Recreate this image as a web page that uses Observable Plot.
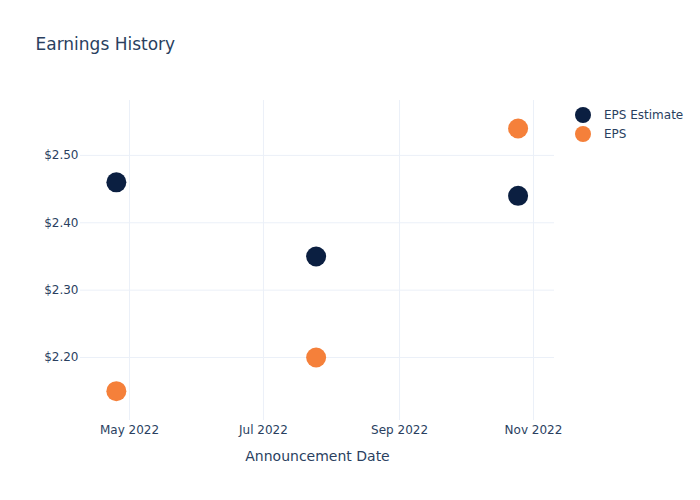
<!DOCTYPE html>
<html>
<head>
<meta charset="utf-8">
<script src="https://cdn.jsdelivr.net/npm/d3@7"></script>
<script src="https://cdn.jsdelivr.net/npm/@observablehq/plot@0.6"></script>
<style>
  html, body { margin: 0; padding: 0; background: #fff; }
  #wrap { position: relative; width: 700px; height: 500px; font-family: "DejaVu Sans", sans-serif; color: #2a3f5f; }
  #legend { position: absolute; left: 575px; top: 105px; font-size: 12px; }
  .item { display: flex; align-items: center; height: 19px; }
  .item svg { margin-right: 13px; }
</style>
</head>
<body>
<div id="wrap"></div>
<script>
const dates = ["2022-04-25", "2022-07-25", "2022-10-25"];
const epsEstimate = [2.46, 2.35, 2.44];
const eps = [2.15, 2.20, 2.54];
const seriesNames = ["EPS Estimate", "EPS"];
const seriesColors = ["#0b1f41", "#f5803a"];
const xTicks = ["2022-05-01", "2022-07-01", "2022-09-01", "2022-11-01"];
const yTicks = [2.2, 2.3, 2.4, 2.5];
const titleText = "Earnings History";
const xLabel = "Announcement Date";

const rows = [];
dates.forEach((d, i) => {
  rows.push({date: new Date(d), value: epsEstimate[i], series: seriesNames[0]});
  rows.push({date: new Date(d), value: eps[i], series: seriesNames[1]});
});

const textColor = "#2a3f5f";
const gridColor = "#ebf0f8";

const chart = Plot.plot({
  width: 700,
  height: 500,
  marginLeft: 80,
  marginRight: 146,
  marginTop: 100,
  marginBottom: 80,
  style: {fontFamily: "DejaVu Sans, sans-serif", fontSize: "12px", color: textColor, background: "#fff"},
  x: {
    type: "utc",
    domain: [new Date("2022-04-08T16:00:00Z"), new Date("2022-11-10T14:00:00Z")],
    ticks: xTicks.map(d => new Date(d)),
    tickFormat: d3.utcFormat("%b %Y"),
    tickSize: 0,
    tickPadding: 5,
    label: null
  },
  y: {
    domain: [2.1065, 2.5815],
    ticks: yTicks,
    tickFormat: d => "$" + d.toFixed(2),
    tickSize: 0,
    tickPadding: 2,
    label: null
  },
  color: {domain: seriesNames, range: seriesColors},
  marks: [
    Plot.gridX(xTicks.map(d => new Date(d)), {stroke: gridColor, strokeOpacity: 1, strokeWidth: 1}),
    Plot.gridY(yTicks, {stroke: gridColor, strokeOpacity: 1, strokeWidth: 1}),
    Plot.dot(rows, {x: "date", y: "value", fill: "series", r: 10}),
    Plot.text([titleText], {frameAnchor: "top-left", dx: -45, dy: -56, textAnchor: "start", lineAnchor: "middle", fontSize: 17, fill: textColor}),
    Plot.text([xLabel], {frameAnchor: "bottom", dy: 36, lineAnchor: "middle", fontSize: 14, fill: textColor})
  ]
});
chart.querySelectorAll("g[aria-label$='axis'] text, g[aria-label*='tick label'] text").forEach(t => t.setAttribute("fill", textColor));
document.getElementById("wrap").appendChild(chart);

const legend = document.createElement("div");
legend.id = "legend";
seriesNames.forEach((name, i) => {
  const item = document.createElement("div");
  item.className = "item";
  item.innerHTML = `<svg width="16" height="16"><circle cx="8" cy="8" r="8" fill="${seriesColors[i]}"/></svg><span>${name}</span>`;
  legend.appendChild(item);
});
document.getElementById("wrap").appendChild(legend);
</script>
</body>
</html>
